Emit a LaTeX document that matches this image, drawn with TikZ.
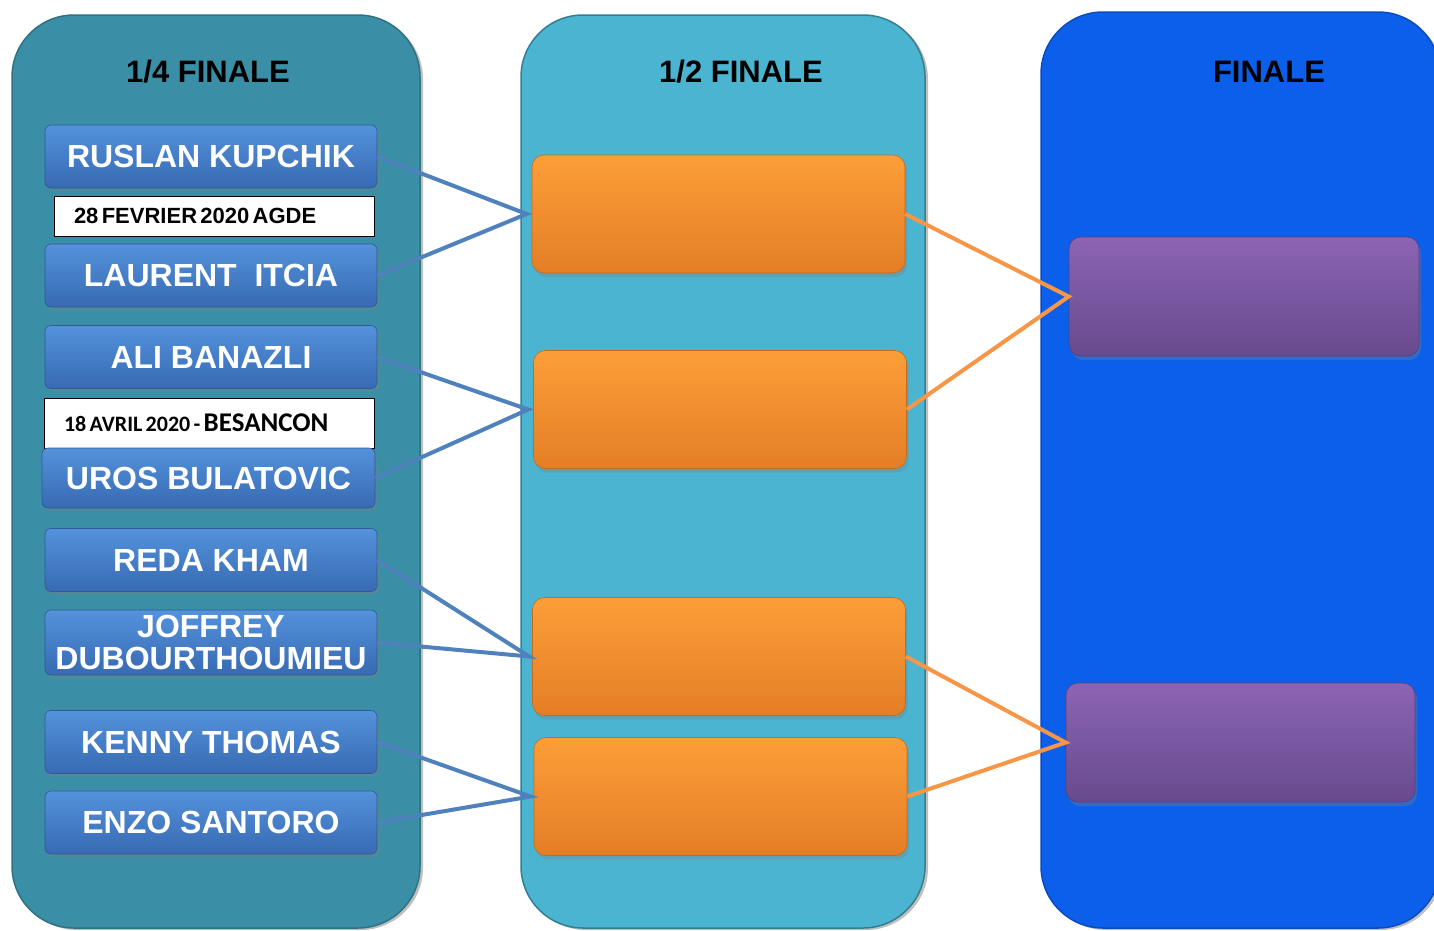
\documentclass[tikz,border=0pt]{standalone}
\usepackage{fontspec}
\setmainfont{Liberation Sans}
\newfontfamily\calibri{Carlito}
\usetikzlibrary{shadows}
\definecolor{quartcol}{RGB}{58,142,165}
\definecolor{semicol}{RGB}{75,180,208}
\definecolor{finalcol}{RGB}{12,95,235}
\definecolor{plytop}{RGB}{84,146,220}
\definecolor{plybot}{RGB}{55,106,178}
\definecolor{orgtop}{RGB}{252,158,56}
\definecolor{orgbot}{RGB}{228,126,38}
\definecolor{purtop}{RGB}{140,100,180}
\definecolor{purbot}{RGB}{104,74,142}
\definecolor{lineblue}{RGB}{79,129,189}
\definecolor{lineorange}{RGB}{247,150,70}
\tikzset{
  panel/.style={rounded corners=62pt,line width=1.5pt,
    drop shadow={shadow xshift=3pt,shadow yshift=-2pt,opacity=.5}},
  title/.style={anchor=base,font=\fontsize{31}{31}\selectfont\bfseries},
  player/.style={rounded corners=6pt,minimum width=332pt,minimum height=63pt,inner sep=0pt,
    top color=plytop,bottom color=plybot,draw=plybot!85!black,line width=.6pt,
    text=white,align=center,font=\fontsize{32}{32.5}\selectfont\bfseries,
    drop shadow={shadow xshift=2pt,shadow yshift=-3pt,opacity=.35}},
  datebox/.style={draw=black,fill=white,line width=1pt,inner xsep=20pt,inner ysep=0pt,align=left},
  semibox/.style={rounded corners=12pt,minimum width=373pt,minimum height=118pt,
    top color=orgtop,bottom color=orgbot,draw=orgbot!85!black,line width=.6pt,
    drop shadow={shadow xshift=2pt,shadow yshift=-4pt,opacity=.35}},
  finalbox/.style={rounded corners=12pt,minimum width=350pt,minimum height=119pt,
    top color=purtop,bottom color=purbot,draw=purbot!85!black,line width=.6pt,
    drop shadow={shadow xshift=2pt,shadow yshift=-4pt,opacity=.35}},
  blueline/.style={draw=lineblue,line width=4pt},
  orangeline/.style={draw=lineorange,line width=4pt}
}
\begin{document}
\begin{tikzpicture}[x=1pt,y=-1pt]
  \useasboundingbox (0,0) rectangle (1434,930);
  \path[panel,fill=quartcol,draw=quartcol!80!black] (12,15) rectangle (420,928);
  \path[panel,fill=semicol,draw=semicol!70!black] (521,15) rectangle (925,928);
  \path[panel,fill=finalcol,draw=finalcol!80!black] (1041,12) rectangle (1440,928);
  \node[title] (tquart) at (208,82) {1/4 FINALE};
  \node[title] (tsemi) at (741,82) {1/2 FINALE};
  \node[title] (tfinal) at (1269,82) {FINALE};
  \node[datebox,text width=280pt,minimum height=40pt] (dagde) at (214,216)
    {\fontsize{22}{22}\selectfont\bfseries 28 FEVRIER 2020 AGDE};
  \node[datebox,text width=290pt,minimum height=50pt] (dbesancon) at (209,423)
    {\calibri\bfseries\fontsize{22}{22}\selectfont 18 AVRIL 2020 - \fontsize{27}{27}\selectfont BESANCON};
  \node[player] (ruslan) at (211,156.5) {RUSLAN KUPCHIK};
  \node[player] (laurent) at (211,275.5) {LAURENT\ \ ITCIA};
  \node[player] (ali) at (211,357) {ALI BANAZLI};
  \node[player,minimum width=333pt,minimum height=60pt] (uros) at (208.5,478) {UROS BULATOVIC};
  \node[player] (reda) at (211,560) {REDA KHAM};
  \node[player,minimum height=65pt] (joffrey) at (211,642.5) {JOFFREY\\DUBOURTHOUMIEU};
  \node[player] (kenny) at (211,742) {KENNY THOMAS};
  \node[player] (enzo) at (211,822.5) {ENZO SANTORO};
  \node[semibox] (semiA) at (718.5,214) {};
  \node[semibox] (semiB) at (720,409.5) {};
  \node[semibox] (semiC) at (719,656.5) {};
  \node[semibox] (semiD) at (720.5,796.5) {};
  \node[finalbox] (finA) at (1244,296.5) {};
  \node[finalbox,minimum width=349pt] (finB) at (1240.5,742.5) {};
  \draw[blueline] (ruslan.east) -- ([xshift=-5pt]semiA.west) -- (laurent.east);
  \draw[blueline] (ali.east) -- ([xshift=-5pt]semiB.west) -- (uros.east);
  \draw[blueline] (reda.east) -- ([xshift=-3pt]semiC.west) -- (joffrey.east);
  \draw[blueline] (kenny.east) -- ([xshift=-3pt]semiD.west) -- (enzo.east);
  \draw[orangeline] (semiA.east) -- (finA.west) -- (semiB.east);
  \draw[orangeline] (semiC.east) -- (finB.west) -- (semiD.east);
\end{tikzpicture}
\end{document}
